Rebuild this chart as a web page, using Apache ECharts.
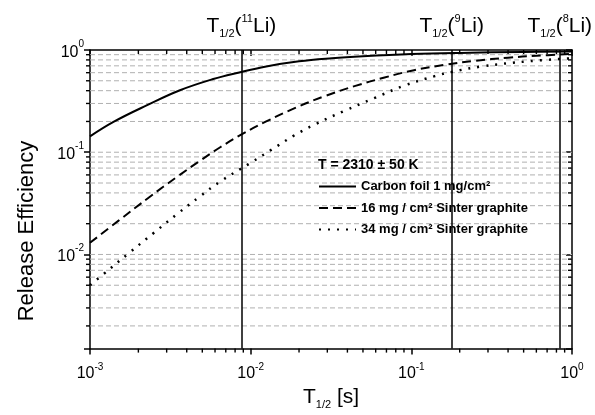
<!DOCTYPE html>
<html><head><meta charset="utf-8">
<script src="https://cdn.jsdelivr.net/npm/echarts@6.0.0/dist/echarts.min.js"></script>
<style>html,body{margin:0;padding:0;background:#fff}#c{width:595px;height:415px}</style>
</head><body><div id="c"></div>
<script>
// ---- data ----
const seriesNames = ['Carbon foil 1 mg/cm²', '16 mg / cm² Sinter graphite', '34 mg / cm² Sinter graphite'];
const foilT = [0.001, 0.0014, 0.00225, 0.00363, 0.00585, 0.00836, 0.0125, 0.02, 0.032, 0.05, 0.1, 0.2, 0.5, 1];
const foilE = [0.143, 0.198, 0.287, 0.404, 0.52, 0.60, 0.69, 0.775, 0.83, 0.868, 0.912, 0.937, 0.957, 0.967];
const sinter16T = [0.001, 0.0015, 0.00236, 0.0035, 0.00484, 0.0065, 0.00895, 0.0125, 0.0188, 0.0288, 0.0443, 0.0681, 0.104, 0.16, 0.25, 0.4, 0.6, 1];
const sinter16E = [0.013, 0.0213, 0.0367, 0.0578, 0.0825, 0.1125, 0.152, 0.2, 0.27, 0.353, 0.443, 0.538, 0.635, 0.715, 0.785, 0.842, 0.878, 0.915];
const sinter34T = [0.001, 0.00121, 0.00177, 0.0025, 0.0035, 0.00484, 0.0065, 0.0099, 0.0135, 0.0188, 0.0251, 0.0385, 0.0592, 0.091, 0.14, 0.178, 0.274, 0.53, 1];
const sinter34E = [0.005, 0.0064, 0.0105, 0.0163, 0.025, 0.037, 0.052, 0.078, 0.106, 0.147, 0.187, 0.255, 0.34, 0.45, 0.555, 0.61, 0.69, 0.775, 0.83];
const halfLifeIsotopes = ['11', '9', '8'];
const halfLifeValues = [0.00875, 0.1783, 0.8399];
const xMin = 0.001, xMax = 1, yMin = 0.0012, yMax = 1;
const xMinorTicks = [0.002,0.003,0.004,0.005,0.006,0.007,0.008,0.009,0.02,0.03,0.04,0.05,0.06,0.07,0.08,0.09,0.2,0.3,0.4,0.5,0.6,0.7,0.8,0.9];
const yMajorTicks = [0.01, 0.1];
const yMinorTicks = [0.002,0.003,0.004,0.005,0.006,0.007,0.008,0.009,0.02,0.03,0.04,0.05,0.06,0.07,0.08,0.09,0.2,0.3,0.4,0.5,0.6,0.7,0.8,0.9];
const tempLabel = 'T = 2310 ± 50 K';

const FF = '"Liberation Sans", Arial, sans-serif';
const zip = (a, b) => a.map((v, i) => [v, b[i]]);
const isPow10 = v => Math.abs(Math.log10(v) - Math.round(Math.log10(v))) < 1e-6;
const expLabel = v => isPow10(v) ? '{b|10}{e|' + Math.round(Math.log10(v)) + '}' : '';
const labelRich = {
  b: {fontSize: 16, lineHeight: 22, fontFamily: FF, color: '#000'},
  e: {fontSize: 10, lineHeight: 12, verticalAlign: 'top', fontFamily: FF, color: '#000'}
};
const yLabelRich = {
  b: {fontSize: 16, lineHeight: 22, padding: [5, 0, 0, 0], fontFamily: FF, color: '#000'},
  e: {fontSize: 10, lineHeight: 12, verticalAlign: 'top', fontFamily: FF, color: '#000'}
};
const titleRich = {
  m: {fontSize: 21, lineHeight: 26, fontFamily: FF, color: '#000'},
  sub: {fontSize: 11, lineHeight: 13, verticalAlign: 'bottom', fontFamily: FF, color: '#000'},
  sup: {fontSize: 11, lineHeight: 13, verticalAlign: 'top', fontFamily: FF, color: '#000'}
};
const axisBase = {
  type: 'log', logBase: 10,
  axisLine: {show: true, lineStyle: {color: '#000', width: 1.5}},
  splitLine: {show: false}, minorTick: {show: false}
};
const MAJOR = 6, MINOR = 4;
const tickStyle = () => ({stroke: '#000', lineWidth: 1.4});

const chart = echarts.init(document.getElementById('c'), null, {renderer: 'canvas'});
chart.setOption({
  animation: false,
  backgroundColor: '#fff',
  grid: {left: 90, right: 23, top: 50, bottom: 56, containLabel: false},
  title: {text: tempLabel, left: 313, top: 153, textStyle: {fontSize: 14, fontWeight: 'bold', color: '#000', fontFamily: FF}},
  legend: {
    left: 313, top: 175, orient: 'vertical', itemWidth: 37, itemHeight: 14, itemGap: 8.5,
    selectedMode: false, data: seriesNames,
    itemStyle: {opacity: 0},
    textStyle: {fontSize: 13, fontWeight: 'bold', color: '#000', fontFamily: FF}
  },
  xAxis: [
    Object.assign({}, axisBase, {
      min: xMin, max: xMax, position: 'bottom',
      axisTick: {show: true, inside: false, length: MAJOR, lineStyle: {color: '#000', width: 1.5}},
      axisLabel: {margin: 14, formatter: expLabel, rich: labelRich},
      name: '{m|T}{sub|1/2}{m| [s]}', nameLocation: 'middle', nameGap: 34,
      nameTextStyle: {rich: titleRich}
    }),
    Object.assign({}, axisBase, {
      min: xMin, max: xMax, position: 'top',
      axisTick: {show: true, inside: true, length: MAJOR, lineStyle: {color: '#000', width: 1.5}},
      axisLabel: {show: false}
    })
  ],
  yAxis: [
    Object.assign({}, axisBase, {
      min: yMin, max: yMax, position: 'left',
      axisTick: {show: true, inside: false, length: MAJOR, lineStyle: {color: '#000', width: 1.5}},
      axisLabel: {margin: 6, formatter: expLabel, rich: yLabelRich}
    }),
    Object.assign({}, axisBase, {
      min: yMin, max: yMax, position: 'right',
      axisTick: {show: true, inside: true, length: MAJOR, lineStyle: {color: '#000', width: 1.5}},
      axisLabel: {show: false}
    })
  ],
  graphic: [{
    type: 'text', x: 27, y: 231, rotation: Math.PI / 2,
    style: {text: 'Release Efficiency', fontSize: 22, fontFamily: FF, fill: '#000', align: 'center', verticalAlign: 'middle'}
  }],
  series: [
    {
      type: 'custom', name: 'ygrid', silent: true, z: 1, clip: false, xAxisIndex: 0, yAxisIndex: 0,
      data: yMajorTicks.concat(yMinorTicks).map(v => [xMin, v]),
      renderItem: function (params, api) {
        const v = api.value(1);
        const a = api.coord([xMin, v]), b = api.coord([xMax, v]);
        const ch = [{type: 'line', shape: {x1: a[0], y1: a[1], x2: b[0], y2: b[1]},
          style: {stroke: '#b0b0b0', lineWidth: 1, lineDash: [5, 3]}}];
        if (yMinorTicks.indexOf(v) >= 0) {
          ch.push({type: 'line', shape: {x1: a[0] - MINOR, y1: a[1], x2: a[0], y2: a[1]}, style: tickStyle()});
          ch.push({type: 'line', shape: {x1: b[0] - MINOR, y1: b[1], x2: b[0], y2: b[1]}, style: tickStyle()});
        }
        return {type: 'group', children: ch};
      }
    },
    {
      type: 'custom', name: 'xminor', silent: true, z: 2, clip: false, xAxisIndex: 0, yAxisIndex: 0,
      data: xMinorTicks.map(v => [v, yMin]),
      renderItem: function (params, api) {
        const v = api.value(0);
        const a = api.coord([v, yMin]), b = api.coord([v, yMax]);
        return {type: 'group', children: [
          {type: 'line', shape: {x1: a[0], y1: a[1], x2: a[0], y2: a[1] + MINOR}, style: tickStyle()},
          {type: 'line', shape: {x1: b[0], y1: b[1], x2: b[0], y2: b[1] + MINOR}, style: tickStyle()}
        ]};
      }
    },
    {
      type: 'line', name: seriesNames[0], data: zip(foilT, foilE), smooth: 0.4, symbol: 'none', z: 5,
      lineStyle: {color: '#000', width: 2, type: 'solid'}, itemStyle: {color: '#000'},
      markLine: {
        symbol: 'none', silent: true, animation: false, precision: 6,
        lineStyle: {color: '#000', width: 1.5, type: 'solid'},
        label: {
          show: true, position: 'end', distance: 11,
          formatter: p => '{m|T}{sub|1/2}{m|(}{sup|' + p.name + '}{m|Li)}',
          rich: titleRich
        },
        data: halfLifeValues.map((v, i) => ({xAxis: v, name: halfLifeIsotopes[i]}))
      }
    },
    {
      type: 'line', name: seriesNames[1], data: zip(sinter16T, sinter16E), smooth: 0.4, symbol: 'none', z: 5,
      lineStyle: {color: '#000', width: 2, type: [9, 5]}, itemStyle: {color: '#000'}
    },
    {
      type: 'line', name: seriesNames[2], data: zip(sinter34T, sinter34E), smooth: 0.4, symbol: 'none', z: 5,
      lineStyle: {color: '#000', width: 2.5, type: [2, 7]}, itemStyle: {color: '#000'}
    }
  ]
});
</script>
</body></html>
